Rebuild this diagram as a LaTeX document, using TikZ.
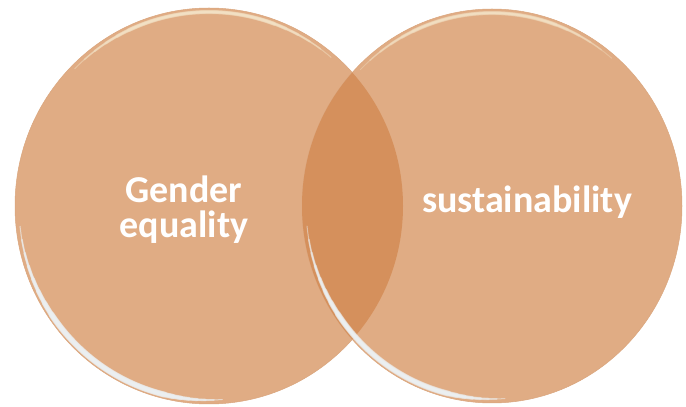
\documentclass[tikz,border=0pt]{standalone}
\usepackage{fontspec}
\setmainfont{Carlito}
\definecolor{circfill}{RGB}{224,172,132}
\definecolor{lensfill}{RGB}{213,144,92}
\definecolor{rimcol}{RGB}{218,166,126}
\definecolor{glint}{RGB}{236,240,242}
\definecolor{glintwarm}{RGB}{244,228,200}
\tikzset{
  circshape/.style={fill=circfill, draw=rimcol, line width=0.5pt},
  glintband/.style={draw=glint, line cap=round, opacity=0.5},
  toptint/.style={draw=glintwarm, line cap=round, opacity=0.35},
  label/.style={font=\bfseries\fontsize{38}{35}\selectfont, text=white, align=center, inner sep=0pt}
}
\newcommand{\glints}[3]{%
  % #1 centre, #2 x radius, #3 y radius
  \foreach \i in {0,...,7}{
    \pgfmathsetmacro{\sa}{186+4*\i}
    \pgfmathsetmacro{\ea}{274-2.5*\i}
    \pgfmathsetmacro{\lw}{1+0.7*\i}
    \pgfmathsetmacro{\rx}{#2-4}
    \pgfmathsetmacro{\ry}{#3-4}
    \draw[glintband, line width=\lw pt] ([shift={(\sa:\rx pt and \ry pt)}]#1) arc[start angle=\sa, end angle=\ea, x radius=\rx pt, y radius=\ry pt];
  }
  \foreach \i in {0,...,5}{
    \pgfmathsetmacro{\sa}{135-4*\i}
    \pgfmathsetmacro{\ea}{50+4*\i}
    \pgfmathsetmacro{\lw}{1+0.6*\i}
    \pgfmathsetmacro{\rx}{#2-4}
    \pgfmathsetmacro{\ry}{#3-4}
    \draw[toptint, line width=\lw pt] ([shift={(\sa:\rx pt and \ry pt)}]#1) arc[start angle=\sa, end angle=\ea, x radius=\rx pt, y radius=\ry pt];
  }
}
\begin{document}
\begin{tikzpicture}[x=1pt,y=1pt]
\useasboundingbox (0,0) rectangle (686,407);
\coordinate (lc) at (209,201);
\coordinate (rc) at (492,201);
% left circle
\path[circshape] (lc) ellipse [x radius=194, y radius=198];
\glints{lc}{194}{198}
% right circle
\path[circshape] (rc) ellipse [x radius=190, y radius=197];
% lens
\begin{scope}
  \clip (lc) ellipse [x radius=194, y radius=198];
  \fill[lensfill] (rc) ellipse [x radius=190, y radius=197];
  \begin{scope}[opacity=0.5, transparency group]
    \glints{lc}{194}{198}
  \end{scope}
\end{scope}
\glints{rc}{190}{197}
% labels
\node[label] (gender) at (184,197) {Gender\\equality};
\node[label, anchor=base] (sust) at (527,194) {sustainability};
\end{tikzpicture}
\end{document}
